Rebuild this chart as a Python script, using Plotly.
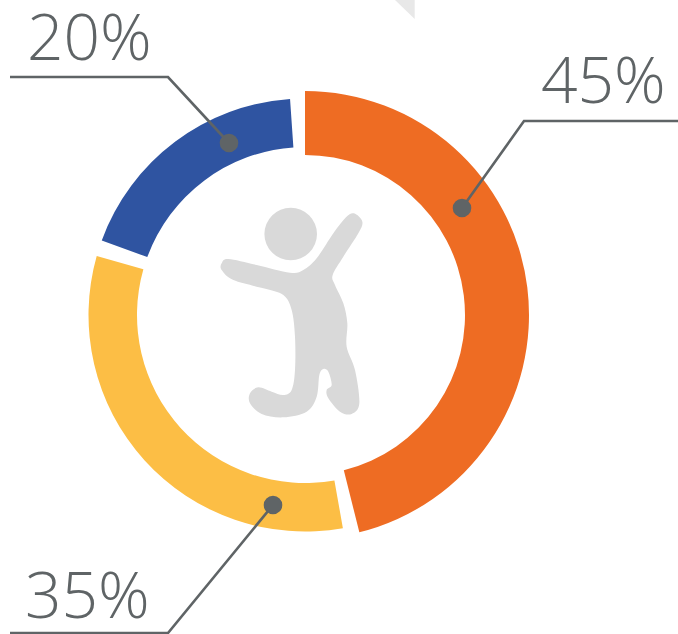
import plotly.graph_objects as go

W, H = 678, 634

# Displayed values
categories = ["Orange", "Yellow", "Blue"]
values = [45, 35, 20]
value_labels = ["45%", "35%", "20%"]

# Arc shares of the circle as drawn (percent), clockwise from 12 o'clock
outer_ring_labels = ["Orange", "rest"]
outer_ring_shares = [46.1, 53.9]
inner_ring_labels = ["gap a", "Yellow", "gap b", "Blue", "gap c"]
inner_ring_shares = [47.2, 32.2, 1.2, 18.3, 1.1]

ORANGE, YELLOW, BLUE = "#EE6C23", "#FCBE45", "#2F54A1"
CLEAR = "rgba(0,0,0,0)"
GREY = "#5F6466"
ICON = "#D9D9D9"


def px(x):
    return x / W


def py(y):
    return 1 - y / H


def dom(r, cx=305, cy=315):
    return dict(x=[px(cx - r), px(cx + r)], y=[py(cy + r), py(cy - r)])


def pie(labels, shares, colors, r_out, r_in):
    return go.Pie(
        labels=labels, values=shares, sort=False, direction="clockwise", rotation=0,
        hole=r_in / r_out, domain=dom(r_out), textinfo="none", hoverinfo="skip",
        showlegend=False, marker=dict(colors=colors, line=dict(width=0)),
    )


fig = go.Figure()
fig.add_trace(pie(outer_ring_labels, outer_ring_shares, [ORANGE, CLEAR], 224, 160))
fig.add_trace(pie(inner_ring_labels, inner_ring_shares, [CLEAR, YELLOW, CLEAR, BLUE, CLEAR], 216.5, 168))


def line_shape(points):
    d = "M " + " L ".join(f"{px(x):.5f},{py(y):.5f}" for x, y in points)
    return dict(type="path", xref="paper", yref="paper", path=d,
                line=dict(color=GREY, width=2.6), fillcolor=CLEAR, layer="above")


def dot_shape(x, y, r=9.3):
    return dict(type="circle", xref="paper", yref="paper",
                x0=px(x - r), x1=px(x + r), y0=py(y + r), y1=py(y - r),
                fillcolor=GREY, line=dict(width=0), layer="above")


def smooth_closed(points):
    n = len(points)
    d = f"M {px(points[0][0]):.5f},{py(points[0][1]):.5f}"
    for i in range(n):
        p0, p1, p2, p3 = points[i - 1], points[i], points[(i + 1) % n], points[(i + 2) % n]
        c1 = (p1[0] + (p2[0] - p0[0]) / 6, p1[1] + (p2[1] - p0[1]) / 6)
        c2 = (p2[0] - (p3[0] - p1[0]) / 6, p2[1] - (p3[1] - p1[1]) / 6)
        d += (f" C {px(c1[0]):.5f},{py(c1[1]):.5f} {px(c2[0]):.5f},{py(c2[1]):.5f}"
              f" {px(p2[0]):.5f},{py(p2[1]):.5f}")
    return d + " Z"


body_zoom = [
    (85, 207), (170, 225), (270, 248), (310, 240), (350, 205), (400, 130), (438, 82),
    (462, 70), (487, 95), (475, 130), (430, 200), (398, 255), (405, 285), (430, 340),
    (442, 400), (440, 470), (465, 540), (478, 640), (455, 672), (420, 665), (385, 625),
    (380, 600), (395, 585), (385, 545), (370, 537), (358, 555), (350, 620), (320, 665),
    (250, 682), (185, 672), (150, 640), (150, 610), (175, 592), (215, 605), (250, 615),
    (275, 600), (285, 540), (285, 440), (275, 360), (250, 315), (190, 295), (100, 270),
    (65, 240), (65, 220),
]
body = [(200 + x / 3, 190 + y / 3) for x, y in body_zoom]

shapes = [
    dict(type="path", xref="paper", yref="paper", fillcolor="#E8E8E8", line=dict(width=0),
         path=f"M {px(395)},{py(0)} L {px(414.7)},{py(0)} L {px(414.7)},{py(19)} Z"),
    dict(type="path", xref="paper", yref="paper", fillcolor=ICON, line=dict(width=0),
         path=smooth_closed(body)),
    dict(type="circle", xref="paper", yref="paper", fillcolor=ICON, line=dict(width=0),
         x0=px(264.4), x1=px(317), y0=py(260.3), y1=py(207.7)),
    line_shape([(462, 208), (524, 121), (678, 121)]),
    line_shape([(273, 505), (168, 633), (10, 633)]),
    line_shape([(229, 143), (168, 77), (10, 77)]),
    dot_shape(462, 208),
    dot_shape(273, 505),
    dot_shape(229, 143),
]

label_positions = [(603, 78), (87, 593), (89, 35)]
annotations = [
    dict(text=t, x=px(x), y=py(y), xref="paper", yref="paper", showarrow=False,
         xanchor="center", yanchor="middle", height=62, valign="middle",
         font=dict(family="Open Sans", size=64, color=GREY, weight=300))
    for t, (x, y) in zip(value_labels, label_positions)
]

fig.update_layout(
    width=W, height=H, margin=dict(l=0, r=0, t=0, b=0),
    paper_bgcolor="white", plot_bgcolor="white", showlegend=False,
    shapes=shapes, annotations=annotations,
)
fig.write_html(
    "out.html",
    config=dict(displayModeBar=False),
    post_script="document.documentElement.style.overflow='hidden';document.body.style.margin='0';",
)
